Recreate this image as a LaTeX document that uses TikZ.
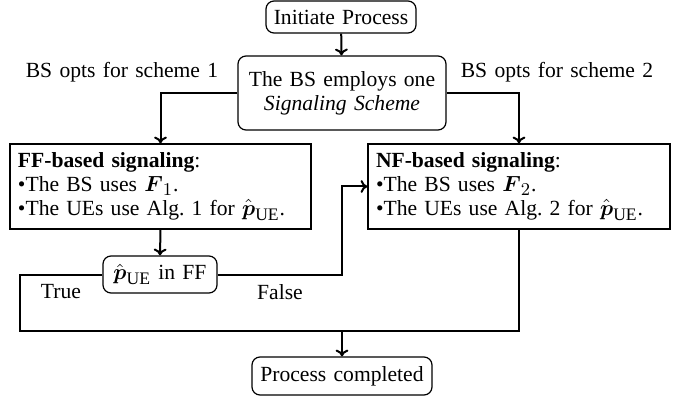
\documentclass[tikz,border=0pt]{standalone}
\usepackage{amsmath}
\usepackage{fontspec}
\setmainfont{Liberation Serif}[WordSpace=1.35]
\DeclareMathSizes{10.8}{11.2}{8.8}{6.6}
\usetikzlibrary{arrows.meta}
\tikzset{
  base/.style={font=\fontsize{10.8}{12}\selectfont},
  rbox/.style={base, draw, line width=0.6pt, rounded corners=4pt, align=center, inner sep=2pt},
  sbox/.style={base, draw, line width=0.6pt, align=left, inner xsep=4pt, minimum height=42.5pt},
  lbl/.style={base, inner sep=0pt},
  link/.style={line width=1pt},
  arr/.style={link, -{To[length=3.4pt,width=6.4pt]}},
}
\newcommand{\pue}{\hat{\boldsymbol{p}}_{\mathrm{UE}}}
\begin{document}
\begin{tikzpicture}[x=0.5pt, y=-0.5pt]
  \useasboundingbox (0,0) rectangle (686,401);

  % process steps
  \node[rbox, minimum width=75pt, minimum height=16pt] (init) at (341,17) {Initiate Process};
  \node[rbox, minimum width=104pt, minimum height=37pt] (scheme) at (342,93)
    {The BS employs one\\ \textit{Signaling Scheme}};
  \node[sbox, text width=142.5pt] (ff) at (160.5,186.5)
    {\textbf{FF-based signaling}:\\
     \textbullet The BS uses $\boldsymbol{F}_1$.\\
     \textbullet The UEs use Alg.~1 for $\pue$.};
  \node[sbox, text width=143pt] (nf) at (519,186.5)
    {\textbf{NF-based signaling}:\\
     \textbullet The BS uses $\boldsymbol{F}_2$.\\
     \textbullet The UEs use Alg.~2 for $\pue$.};
  \node[rbox, minimum width=57pt, minimum height=18.5pt] (dec) at (160,274.5)
    {$\pue$ in FF};
  \node[rbox, minimum width=90pt, minimum height=19pt] (done) at (342,376) {Process completed};

  % branch labels
  \node[lbl] (opt1) at (122,72) {BS opts for scheme 1};
  \node[lbl] (opt2) at (557,72) {BS opts for scheme 2};
  \node[lbl] (yes) at (61,292) {True};
  \node[lbl] (no) at (280,292) {False};

  % routing points
  \coordinate (loopL) at (20,331);
  \coordinate (merge) at (342,331);
  \coordinate (fturn) at (342,274.5);

  % connectors
  \draw[arr] (init) -- (scheme);
  \draw[arr] (scheme.west) -| (ff.north);
  \draw[arr] (scheme.east) -| (nf.north);
  \draw[arr] (ff.south) -- (dec.north);
  \draw[link] (dec.west) -| (loopL) -| (nf.south);
  \draw[arr] (dec.east) -- (fturn) |- (nf.west);
  \draw[arr] (merge) -- (done.north);
\end{tikzpicture}
\end{document}
